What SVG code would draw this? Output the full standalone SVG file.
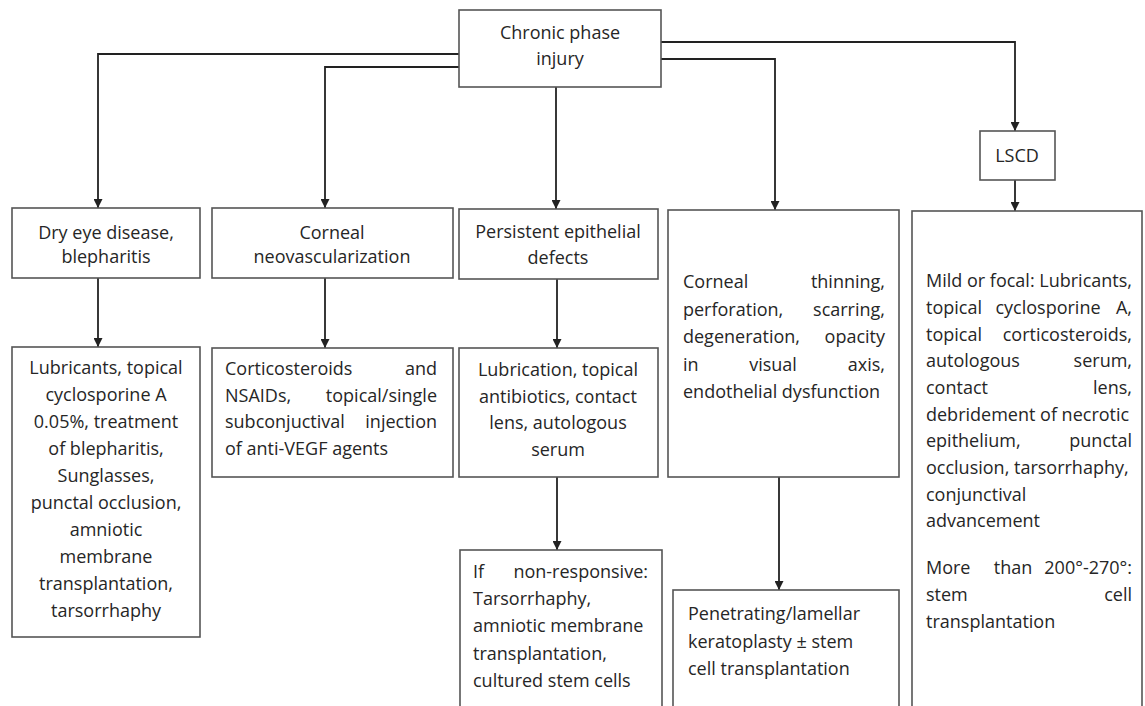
<svg xmlns="http://www.w3.org/2000/svg" width="1145" height="706" viewBox="0 0 1145 706">
<defs>
<marker id="arr" viewBox="0 0 10 10" refX="10" refY="5" markerWidth="9" markerHeight="9" markerUnits="userSpaceOnUse" orient="auto">
<path d="M0,0 L10,5 L0,10 z" fill="#222"/>
</marker>
<style>
.box{fill:#fff;stroke:#555;stroke-width:1.6}
.t{font-family:"Open Sans",Lato,"Liberation Sans",sans-serif;font-size:18px;fill:#262626}
.c{text-anchor:middle}
.e{text-anchor:end}
.ln{fill:none;stroke:#222;stroke-width:1.8;marker-end:url(#arr)}
</style>
</defs>
<rect width="1145" height="706" fill="#fff"/>
<g id="connectors">
<path class="ln" d="M459,54 H98 V208"/>
<path class="ln" d="M459,67 H325 V208"/>
<path class="ln" d="M556,87 V209"/>
<path class="ln" d="M661,59 H775 V210"/>
<path class="ln" d="M661,42 H1015 V131"/>
<path class="ln" d="M1015,180 V211"/>
<path class="ln" d="M98,278 V347"/>
<path class="ln" d="M325,278 V348"/>
<path class="ln" d="M557,279 V348"/>
<path class="ln" d="M557,477 V550"/>
<path class="ln" d="M779,477 V590"/>
</g>
<g id="chronic">
<rect class="box" x="459" y="10" width="202" height="77"/>
<text class="t c" x="560" y="39">Chronic phase</text>
<text class="t c" x="560" y="65">injury</text>
</g>
<g id="lscd">
<rect class="box" x="980" y="131" width="75" height="49"/>
<text class="t c" x="1017" y="162">LSCD</text>
</g>
<g id="dryeye">
<rect class="box" x="12" y="208" width="188" height="70"/>
<text class="t c" x="106" y="239">Dry eye disease,</text>
<text class="t c" x="106" y="263">blepharitis</text>
</g>
<g id="neovasc">
<rect class="box" x="212" y="208" width="241" height="70"/>
<text class="t c" x="332" y="239">Corneal</text>
<text class="t c" x="332" y="263">neovascularization</text>
</g>
<g id="ped">
<rect class="box" x="459" y="209" width="199" height="70"/>
<text class="t c" x="558" y="238">Persistent epithelial</text>
<text class="t c" x="558" y="264">defects</text>
</g>
<g id="thinning">
<rect class="box" x="668" y="210" width="231" height="267"/>
<text class="t"><tspan x="683" y="288">Corneal</tspan><tspan class="e" x="885" y="288">thinning,</tspan></text>
<text class="t"><tspan x="683" y="316">perforation,</tspan><tspan class="e" x="885" y="316">scarring,</tspan></text>
<text class="t"><tspan x="683" y="343">degeneration,</tspan><tspan class="e" x="885" y="343">opacity</tspan></text>
<text class="t"><tspan x="683" y="371">in</tspan><tspan class="c" x="773" y="371">visual</tspan><tspan class="e" x="885" y="371">axis,</tspan></text>
<text class="t" x="683" y="398">endothelial dysfunction</text>
</g>
<g id="lscdtx">
<rect class="box" x="912" y="211" width="230" height="510"/>
<text class="t" x="926" y="287">Mild or focal: Lubricants,</text>
<text class="t"><tspan x="926" y="314">topical</tspan><tspan class="c" x="1048" y="314">cyclosporine</tspan><tspan class="e" x="1132" y="314">A,</tspan></text>
<text class="t"><tspan x="926" y="341">topical</tspan><tspan class="e" x="1132" y="341">corticosteroids,</tspan></text>
<text class="t"><tspan x="926" y="367">autologous</tspan><tspan class="e" x="1132" y="367">serum,</tspan></text>
<text class="t"><tspan x="926" y="394">contact</tspan><tspan class="e" x="1132" y="394">lens,</tspan></text>
<text class="t" x="926" y="421">debridement of necrotic</text>
<text class="t"><tspan x="926" y="447">epithelium,</tspan><tspan class="e" x="1132" y="447">punctal</tspan></text>
<text class="t" x="926" y="474">occlusion, tarsorrhaphy,</text>
<text class="t" x="926" y="501">conjunctival</text>
<text class="t" x="926" y="527">advancement</text>
<text class="t"><tspan x="926" y="574">More</tspan><tspan class="c" x="1013" y="574">than</tspan><tspan class="e" x="1132" y="574">200°-270°:</tspan></text>
<text class="t"><tspan x="926" y="601">stem</tspan><tspan class="e" x="1132" y="601">cell</tspan></text>
<text class="t" x="926" y="628">transplantation</text>
</g>
<g id="drytx">
<rect class="box" x="12" y="347" width="188" height="290"/>
<text class="t c" x="106" y="374">Lubricants, topical</text>
<text class="t c" x="106" y="401">cyclosporine A</text>
<text class="t c" x="106" y="428">0.05%, treatment</text>
<text class="t c" x="106" y="455">of blepharitis,</text>
<text class="t c" x="106" y="482">Sunglasses,</text>
<text class="t c" x="106" y="509">punctal occlusion,</text>
<text class="t c" x="106" y="536">amniotic</text>
<text class="t c" x="106" y="563">membrane</text>
<text class="t c" x="106" y="590">transplantation,</text>
<text class="t c" x="106" y="617">tarsorrhaphy</text>
</g>
<g id="neotx">
<rect class="box" x="212" y="348" width="241" height="129"/>
<text class="t"><tspan x="225" y="375">Corticosteroids</tspan><tspan class="e" x="437" y="375">and</tspan></text>
<text class="t"><tspan x="225" y="402">NSAIDs,</tspan><tspan class="e" x="437" y="402">topical/single</tspan></text>
<text class="t"><tspan x="225" y="428">subconjuctival</tspan><tspan class="e" x="437" y="428">injection</tspan></text>
<text class="t" x="225" y="455">of anti-VEGF agents</text>
</g>
<g id="pedtx">
<rect class="box" x="459" y="348" width="199" height="129"/>
<text class="t c" x="558" y="376">Lubrication, topical</text>
<text class="t c" x="558" y="403">antibiotics, contact</text>
<text class="t c" x="558" y="429">lens, autologous</text>
<text class="t c" x="558" y="456">serum</text>
</g>
<g id="nonresp">
<rect class="box" x="460" y="550" width="202" height="170"/>
<text class="t"><tspan x="473" y="578">If</tspan><tspan class="e" x="648" y="578">non-responsive:</tspan></text>
<text class="t" x="473" y="605">Tarsorrhaphy,</text>
<text class="t" x="473" y="632">amniotic membrane</text>
<text class="t" x="473" y="660">transplantation,</text>
<text class="t" x="473" y="687">cultured stem cells</text>
</g>
<g id="pk">
<rect class="box" x="673" y="590" width="226" height="130"/>
<text class="t" x="688" y="620">Penetrating/lamellar</text>
<text class="t" x="688" y="648">keratoplasty ± stem</text>
<text class="t" x="688" y="675">cell transplantation</text>
</g>
</svg>
